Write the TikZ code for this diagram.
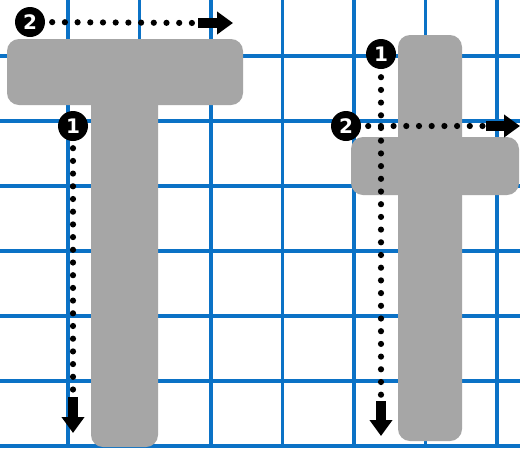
\documentclass[tikz,border=0pt]{standalone}
\usepackage{fontspec}
\setsansfont{DejaVu Sans}
\usetikzlibrary{arrows.meta}
\definecolor{gridblue}{HTML}{0B72C6}
\definecolor{lettergrey}{HTML}{A6A6A6}
\tikzset{
  every picture/.style={x=1pt, y=-1pt},
  gridline/.style={draw=gridblue, line width=3.2pt},
  letter/.style={fill=lettergrey, rounded corners=12pt},
  badge/.style={circle, fill=black, text=white, inner sep=0pt, minimum size=30pt, font=\sffamily\bfseries\fontsize{20}{20}\selectfont},
  trace/.style={black, line width=6.2pt, line cap=round, dash pattern=on 0pt off 12.7pt},
  fatarrow/.style={black, line width=9.5pt, -{Triangle[length=16pt, width=22pt]}},
}

\begin{document}
\begin{tikzpicture}
  \useasboundingbox (0,0) rectangle (520,448);
  \fill[white] (0,0) rectangle (520,448);
  % grid
  \foreach \gx in {68,139.5,...,500} \draw[gridline] (\gx,0) -- (\gx,448);
  \foreach \gy in {56,121,...,448} \draw[gridline] (0,\gy) -- (520,\gy);
  % capital T
  \fill[letter] (91,90) rectangle (158,447);
  \fill[letter] (7,39) rectangle (243,105);
  % small t
  \fill[letter] (398,35) rectangle (462,441);
  \fill[letter] (351,137) rectangle (519,195);
  % stroke order badges
  \node[badge] (T2) at (30,22) {2};
  \node[badge] (T1) at (73,126) {1};
  \node[badge] (t1) at (381,54) {1};
  \node[badge] (t2) at (346,126) {2};
  \coordinate (T2end) at (198,23);  \coordinate (T2tip) at (233,23);
  \coordinate (T1end) at (73,397);  \coordinate (T1tip) at (73,433);
  \coordinate (t1end) at (381,401); \coordinate (t1tip) at (381,436);
  \coordinate (t2end) at (486,126); \coordinate (t2tip) at (520,126);
  % dotted strokes
  \draw[trace, shorten <=7pt] (T2) -- (T2end);
  \draw[trace, shorten <=7pt] (T1) -- (T1end);
  \draw[trace, shorten <=8pt] (t1) -- (t1end);
  \draw[trace, shorten <=7pt] (t2) -- (t2end);
  \foreach \s in {T2,T1,t1,t2} \draw[fatarrow] (\s end) -- (\s tip);
\end{tikzpicture}
\end{document}
